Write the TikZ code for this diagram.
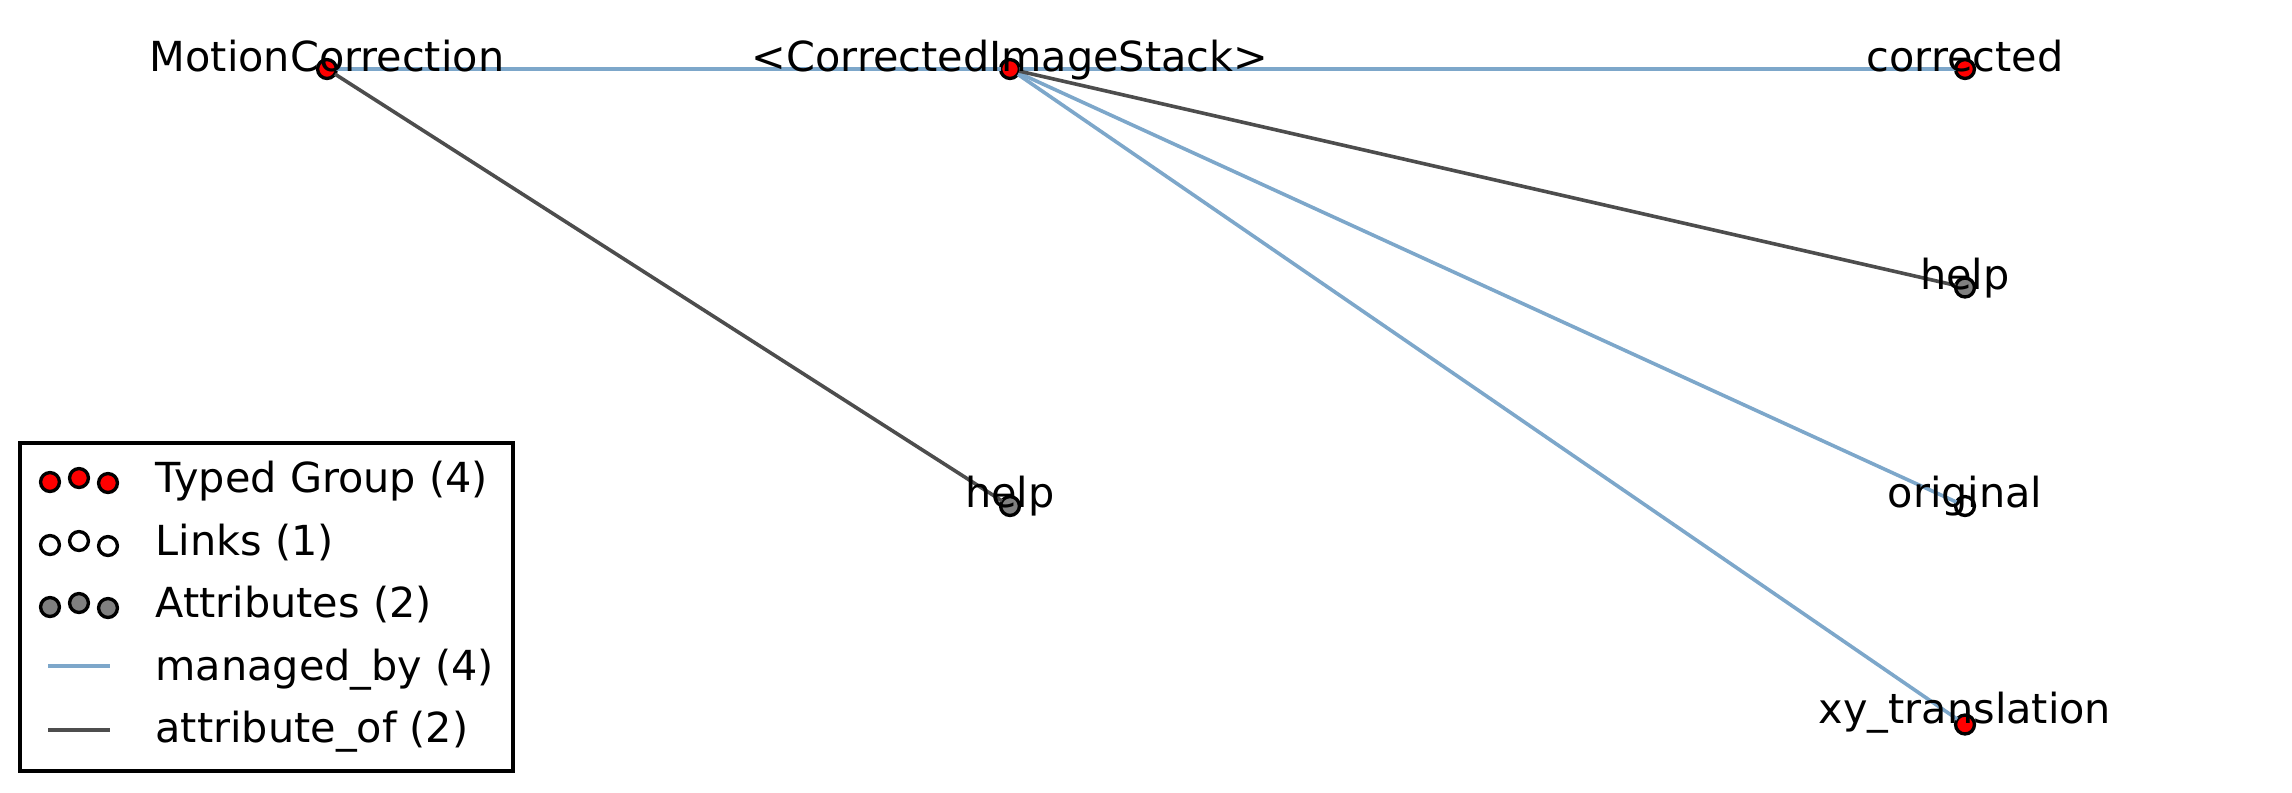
\documentclass[tikz,border=0pt]{standalone}
\usepackage{fontspec}
\setmainfont{DejaVu Sans}
\definecolor{managedblue}{RGB}{125,167,202}
\definecolor{attrgray}{RGB}{77,77,77}
\begin{document}
\begin{tikzpicture}[x=0.36pt, y=-0.36pt]
        % Common styles
        \tikzstyle{dot}=[circle, draw=black, line width=1.2pt, minimum size=6.8pt, inner sep=0pt, outer sep=0pt]
        \tikzstyle{typed}=[dot, fill=red]
        \tikzstyle{linkdot}=[dot, fill=white]
        \tikzstyle{attr}=[dot, fill=gray]
        \tikzstyle{nodetext}=[anchor=base, inner sep=0pt, font=\fontsize{14.9pt}{18pt}\selectfont]
        \tikzstyle{managed}=[managedblue, line width=1.3pt]
        \tikzstyle{attrof}=[attrgray, line width=1.3pt]

        \useasboundingbox (0,0) rectangle (2292,792);

        % --- Group nodes ---
        \node[typed] (mc) at (327,69) {};
        \node[typed] (cis) at (1010,69) {};
        \node[typed] (corr) at (1965,69) {};
        \node[attr] (help-cis) at (1965,287.5) {};
        \node[linkdot] (orig) at (1965,506) {};
        \node[typed] (xyt) at (1965,724.5) {};
        \node[attr] (help-mc) at (1010,506) {};

        % --- Edges ---
        \draw[managed] (mc) -- (cis);
        \draw[managed] (cis) -- (corr);
        \draw[managed] (cis) -- (orig);
        \draw[managed] (cis) -- (xyt);
        \draw[attrof] (mc) -- (help-mc);
        \draw[attrof] (cis) -- (help-cis);

        % --- Names ---
        \node[nodetext] (mc-txt) at (327,71) {MotionCorrection};
        \node[nodetext] (cis-txt) at (1010,71) {<CorrectedImageStack>};
        \node[nodetext] (corr-txt) at (1965,71) {corrected};
        \node[nodetext] (help-cis-txt) at (1965,289) {help};
        \node[nodetext] (orig-txt) at (1965,507.5) {original};
        \node[nodetext] (xyt-txt) at (1965,723) {xy\_translation};
        \node[nodetext] (help-mc-txt) at (1010,507.5) {help};

        % --- Legend ---
        \draw[line width=1.15pt] (20,443) rectangle (513,771);
        \foreach \y/\s in {482/typed, 545/linkdot, 607/attr} {
            \node[\s] (leg-\s-a) at (50,\y) {};
            \node[\s] (leg-\s-b) at (79,\y-4) {};
            \node[\s] (leg-\s-c) at (108,\y+1) {};
        }
        \draw[managed, line width=1.4pt] (48,666) -- (110,666);
        \draw[attrof, line width=1.4pt] (48,730) -- (110,730);

        \node[nodetext, anchor=base west] (leg-typed) at (155,492) {Typed Group (4)};
        \node[nodetext, anchor=base west] (leg-links) at (155,555) {Links (1)};
        \node[nodetext, anchor=base west] (leg-attr) at (155,617) {Attributes (2)};
        \node[nodetext, anchor=base west] (leg-managed) at (155,680) {managed\_by (4)};
        \node[nodetext, anchor=base west] (leg-attrof) at (155,742) {attribute\_of (2)};

    \end{tikzpicture}
\end{document}
